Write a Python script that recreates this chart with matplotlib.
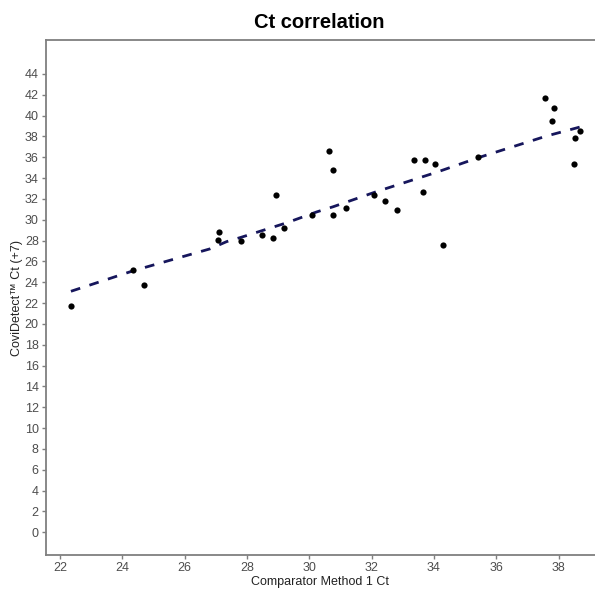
import matplotlib
matplotlib.use("Agg")
import matplotlib.pyplot as plt

plt.rcParams['font.family'] = ['Liberation Sans', 'DejaVu Sans']

# Data points (Comparator Method 1 Ct vs CoviDetect Ct +7)
comparator_ct = [22.35, 24.70, 24.35, 27.11, 27.08, 27.80, 28.48, 28.84, 28.94, 29.20,
                 30.09, 30.64, 30.77, 30.77, 31.18, 32.07, 32.42, 32.81, 33.37, 33.71,
                 33.66, 34.02, 34.30, 35.42, 37.55, 37.86, 37.79, 38.69, 38.53, 38.51]
covidetect_ct = [21.69, 23.76, 25.14, 28.82, 28.08, 27.99, 28.53, 28.27, 32.34, 29.20,
                 30.48, 36.62, 34.77, 30.42, 31.15, 32.34, 31.80, 30.90, 35.70, 35.70,
                 32.63, 35.32, 27.54, 35.99, 41.71, 40.69, 39.47, 38.54, 37.81, 35.32]

# Fitted trend line
fit_x = [22.35, 24.35, 26.81, 27.35, 27.80, 29.27, 30.24, 30.77, 32.16, 34.08, 35.42, 37.61, 38.69]
fit_y = [23.13, 25.10, 27.20, 27.90, 28.30, 29.70, 30.75, 31.25, 32.70, 34.55, 35.95, 38.03, 38.90]

x_ticks = [22, 24, 26, 28, 30, 32, 34, 36, 38]
y_ticks = list(range(0, 45, 2))

fig = plt.figure(figsize=(5.95, 5.92), dpi=100)
ax = fig.add_axes([0.0768, 0.0617, 0.9232, 0.8707])

ax.plot(fit_x, fit_y, color='#16165c', lw=2.0, ls=(0, (3.5, 3.5)), zorder=2)
ax.scatter(comparator_ct, covidetect_ct, s=20, color='black', zorder=3, linewidths=0)

ax.set_xlim(21.54, 39.17)
ax.set_ylim(-2.23, 47.25)
ax.set_xticks(x_ticks)
ax.set_yticks(y_ticks)
ax.tick_params(axis='both', colors='#7f7f7f', labelcolor='#4d4d4d', labelsize=9,
               length=3, width=1, direction='out', pad=2)
for s in ['left', 'bottom', 'top']:
    ax.spines[s].set_color('#7f7f7f')
    ax.spines[s].set_linewidth(1.3)
ax.spines['right'].set_visible(False)

ax.set_xlabel('Comparator Method 1 Ct', fontsize=9, color='#222222', labelpad=1)
ax.set_ylabel('CoviDetect™ Ct (+7)', fontsize=9, color='#222222', labelpad=1)
fig.text(0.537, 0.962, 'Ct correlation', ha='center', va='center',
         fontsize=14.5, fontweight='bold', color='black')

fig.savefig('out.png', dpi=100, facecolor='white')
